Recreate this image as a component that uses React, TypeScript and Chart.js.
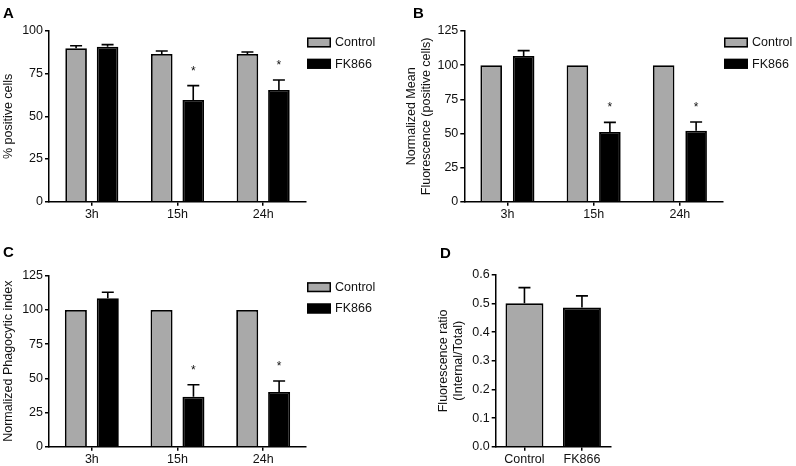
import React, { useEffect, useRef } from "react";
import { Chart, registerables } from "chart.js";
Chart.register(...registerables);

// ---------- data ----------
const timeCategories = ["3h", "15h", "24h"];
const seriesNames = ["Control", "FK866"];

const aTicks = [0, 25, 50, 75, 100];
const aControl = [89.9, 86.5, 86.5];
const aControlSem = [1.5, 1.8, 1.2];
const aFK = [90.8, 59.6, 65.4];
const aFKSem = [1.2, 8.4, 5.9];
const aFKSig = [false, true, true];

const bTicks = [0, 25, 50, 75, 100, 125];
const bControl = [100, 100, 100];
const bControlSem = [0, 0, 0];
const bFK = [106.7, 51.0, 52.0];
const bFKSem = [3.9, 7.1, 6.4];
const bFKSig = [false, true, true];

const cTicks = [0, 25, 50, 75, 100, 125];
const cControl = [100, 100, 100];
const cControlSem = [0, 0, 0];
const cFK = [108.5, 36.5, 40.0];
const cFKSem = [4.4, 8.8, 8.0];
const cFKSig = [false, true, true];

const dCategories = ["Control", "FK866"];
const dTicks = [0, 0.1, 0.2, 0.3, 0.4, 0.5, 0.6];
const dValues = [0.501, 0.486];
const dSem = [0.055, 0.041];

// ---------- styles ----------
const FONT = 'Arial, "Liberation Sans", sans-serif';
const GRAY = "#a9a9a9";
const BLACK = "#000000";
const TEXT = "#111111";
const FS = 12.5;

Chart.defaults.font.family = FONT;
Chart.defaults.color = TEXT;

const errorBarPlugin = {
  id: "errorBars",
  afterDatasetsDraw(chart: any) {
    const ctx = chart.ctx;
    const yScale = chart.scales.y;
    chart.data.datasets.forEach((ds: any, i: number) => {
      const meta = chart.getDatasetMeta(i);
      if (!ds.sem) return;
      meta.data.forEach((el: any, j: number) => {
        const v = ds.data[j];
        const s = ds.sem[j];
        const yTop = yScale.getPixelForValue(v + s);
        ctx.save();
        ctx.strokeStyle = BLACK;
        ctx.lineWidth = 1.6;
        if (s > 0) {
          ctx.beginPath();
          ctx.moveTo(el.x, el.y);
          ctx.lineTo(el.x, yTop);
          ctx.moveTo(el.x - 6, yTop);
          ctx.lineTo(el.x + 6, yTop);
          ctx.stroke();
        }
        if (ds.sig && ds.sig[j]) {
          ctx.fillStyle = TEXT;
          ctx.font = `12px ${FONT}`;
          ctx.textAlign = "center";
          ctx.textBaseline = "alphabetic";
          ctx.fillText("*", el.x, yTop - 18 + 7);
        }
        ctx.restore();
      });
    });
  },
};

const decorPlugin = {
  id: "decor",
  afterDraw(chart: any) {
    const opts = chart.options.plugins.decor || {};
    const ctx = chart.ctx;
    const area = chart.chartArea;
    ctx.save();
    if (opts.letter) {
      ctx.fillStyle = BLACK;
      ctx.font = `bold 15px ${FONT}`;
      ctx.textAlign = "left";
      ctx.textBaseline = "alphabetic";
      ctx.fillText(opts.letter, opts.letterX, opts.letterY);
    }
    if (opts.legend) {
      chart.data.datasets.forEach((ds: any, i: number) => {
        const bx = area.right + 1;
        const by = area.top + 6.5 + i * 21.3;
        ctx.fillStyle = ds.backgroundColor;
        ctx.fillRect(bx, by, 24, 10);
        ctx.strokeStyle = BLACK;
        ctx.lineWidth = 1.5;
        ctx.strokeRect(bx + 0.75, by + 0.75, 22.5, 8.5);
        ctx.fillStyle = TEXT;
        ctx.font = `${FS}px ${FONT}`;
        ctx.textAlign = "left";
        ctx.textBaseline = "middle";
        ctx.fillText(ds.label, bx + 28, by + 5.5);
      });
    }
    ctx.restore();
  },
};

type PanelSpec = {
  w: number;
  h: number;
  left: number;
  right: number;
  top: number;
  bottom: number;
  labels: string[];
  datasets: any[];
  ticks: number[];
  title: string | string[];
  titlePad: number;
  letter: string;
  letterX: number;
  letterY: number;
  legend: boolean;
  catPct: number;
  barPct: number;
  decimals: number;
};

function buildConfig(p: PanelSpec): any {
  const step = p.ticks[1] - p.ticks[0];
  return {
    type: "bar",
    data: { labels: p.labels, datasets: p.datasets },
    plugins: [errorBarPlugin, decorPlugin],
    options: {
      responsive: false,
      animation: false,
      events: [],
      layout: { padding: { left: 0, top: p.top, right: p.w - p.right, bottom: 0 } },
      datasets: { bar: { categoryPercentage: p.catPct, barPercentage: p.barPct } },
      plugins: {
        legend: { display: false },
        tooltip: { enabled: false },
        decor: { letter: p.letter, letterX: p.letterX, letterY: p.letterY, legend: p.legend },
      },
      scales: {
        x: {
          grid: { display: true, offset: false, drawOnChartArea: false, drawTicks: true, tickLength: 4, color: BLACK, lineWidth: 1.5 },
          border: { display: true, color: BLACK, width: 1.5 },
          ticks: { padding: 1, font: { size: FS }, color: TEXT, maxRotation: 0 },
          afterFit: (s: any) => { s.height = p.h - p.bottom; },
        },
        y: {
          min: p.ticks[0],
          max: p.ticks[p.ticks.length - 1],
          grid: { display: true, drawOnChartArea: false, drawTicks: true, tickLength: 4, color: BLACK, lineWidth: 1.5 },
          border: { display: true, color: BLACK, width: 1.5 },
          ticks: {
            stepSize: step,
            padding: 2,
            font: { size: FS },
            color: TEXT,
            callback: (v: any) => Number(v).toFixed(p.decimals),
          },
          title: { display: true, text: p.title, font: { size: FS }, color: TEXT, padding: { top: p.titlePad, bottom: 0 } },
          afterFit: (s: any) => { s.width = p.left; },
        },
      },
    },
  };
}

function twoSeries(ctrl: number[], ctrlSem: number[], fk: number[], fkSem: number[], fkSig: boolean[]) {
  return [
    { label: seriesNames[0], data: ctrl, sem: ctrlSem, backgroundColor: GRAY, borderColor: BLACK, borderWidth: 1.8, borderSkipped: "start" },
    { label: seriesNames[1], data: fk, sem: fkSem, sig: fkSig, backgroundColor: BLACK, borderColor: BLACK, borderWidth: 1.8, borderSkipped: "start" },
  ];
}

const W = 398;
const H = 233;

const panels: { x: number; y: number; spec: PanelSpec }[] = [
  {
    x: 0, y: 0,
    spec: {
      w: W, h: H, left: 49, right: 306, top: 31, bottom: 201.7,
      labels: timeCategories, datasets: twoSeries(aControl, aControlSem, aFK, aFKSem, aFKSig),
      ticks: aTicks, title: "% positive cells", titlePad: 1.5,
      letter: "A", letterX: 3, letterY: 17.5, legend: true, catPct: 0.735, barPct: 0.686, decimals: 0,
    },
  },
  {
    x: 398, y: 0,
    spec: {
      w: W, h: H, left: 66.3, right: 325, top: 31, bottom: 201.7,
      labels: timeCategories, datasets: twoSeries(bControl, bControlSem, bFK, bFKSem, bFKSig),
      ticks: bTicks, title: ["Normalized Mean", "Fluorescence (positive cells)"], titlePad: 6,
      letter: "B", letterX: 15, letterY: 17.5, legend: true, catPct: 0.753, barPct: 0.665, decimals: 0,
    },
  },
  {
    x: 0, y: 233,
    spec: {
      w: W, h: H, left: 49, right: 306, top: 42.7, bottom: 213.7,
      labels: timeCategories, datasets: twoSeries(cControl, cControlSem, cFK, cFKSem, cFKSig),
      ticks: cTicks, title: "Normalized Phagocytic index", titlePad: 1.5,
      letter: "C", letterX: 3, letterY: 24, legend: true, catPct: 0.745, barPct: 0.69, decimals: 0,
    },
  },
  {
    x: 398, y: 233,
    spec: {
      w: W, h: H, left: 97.7, right: 212.7, top: 42, bottom: 213.7,
      labels: dCategories,
      datasets: [
        { label: "ratio", data: dValues, sem: dSem, backgroundColor: [GRAY, BLACK], borderColor: BLACK, borderWidth: 1.8, borderSkipped: "start" },
      ],
      ticks: dTicks, title: ["Fluorescence ratio", "(Internal/Total)"], titlePad: 38.5,
      letter: "D", letterX: 42, letterY: 24.5, legend: false, catPct: 0.66, barPct: 1.0, decimals: 1,
    },
  },
];

function Panel({ x, y, spec }: { x: number; y: number; spec: PanelSpec }) {
  const ref = useRef<HTMLCanvasElement>(null);
  useEffect(() => {
    if (!ref.current) return;
    const chart = new Chart(ref.current, buildConfig(spec));
    return () => chart.destroy();
  }, []);
  return (
    <canvas
      ref={ref}
      width={spec.w}
      height={spec.h}
      style={{ position: "absolute", left: x, top: y, width: spec.w, height: spec.h }}
    />
  );
}

export default function App() {
  return (
    <div style={{ position: "absolute", left: 0, top: 0, width: 796, height: 466, background: "#ffffff", overflow: "hidden" }}>
      {panels.map((p, i) => (
        <Panel key={i} x={p.x} y={p.y} spec={p.spec} />
      ))}
    </div>
  );
}
